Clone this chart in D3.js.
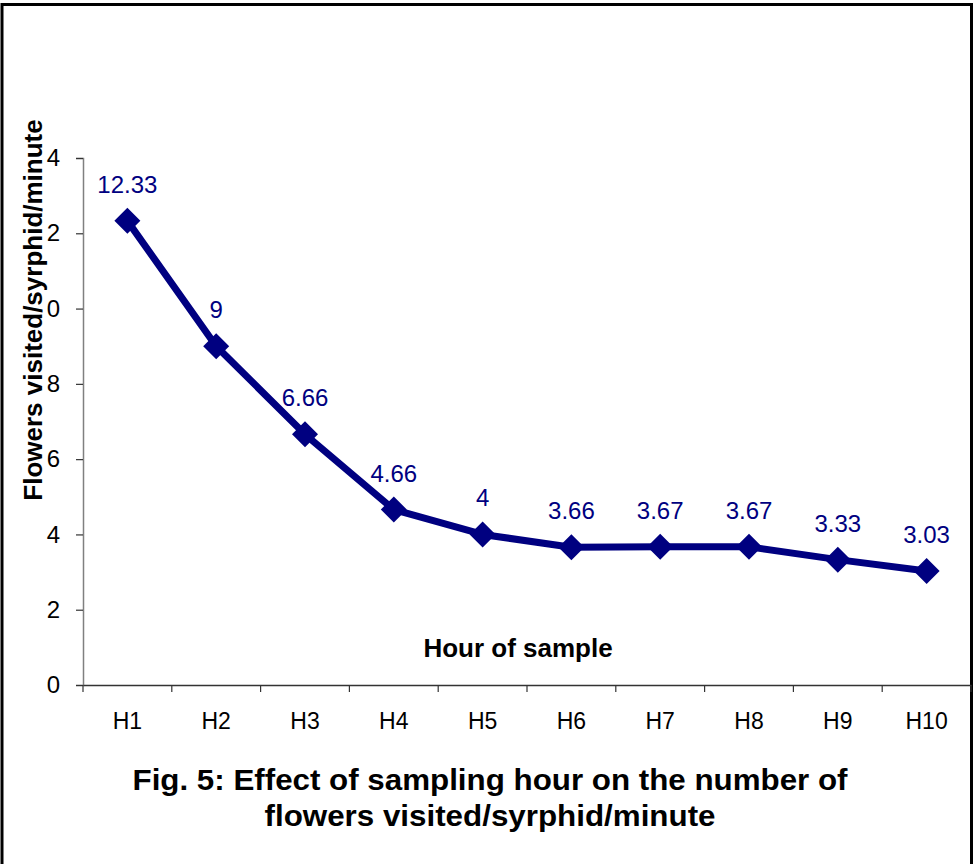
<!DOCTYPE html>
<html><head><meta charset="utf-8">
<script src="https://cdn.jsdelivr.net/npm/d3@7"></script>
<style>body{margin:0;background:#fff}svg{display:block}</style>
</head><body>
<svg id="c" width="975" height="864"></svg>
<script>
const categories = ["H1","H2","H3","H4","H5","H6","H7","H8","H9","H10"];
const values = [12.33, 9, 6.66, 4.66, 4, 3.66, 3.67, 3.67, 3.33, 3.03];
const valueLabels = ["12.33","9","6.66","4.66","4","3.66","3.67","3.67","3.33","3.03"];
const yTicks = [0, 2, 4, 6, 8, 10, 12, 14];
const yTitle = "Flowers visited/syrphid/minute";
const xTitle = "Hour of sample";
const caption = ["Fig. 5: Effect of sampling hour on the number of", "flowers visited/syrphid/minute"];

const svg = d3.select("#c");
const font = "'Liberation Sans', Arial, sans-serif";
const navy = "#000080";

const x = d3.scaleBand().domain(categories).range([83, 971]);
const y = d3.scaleLinear().domain([0, 14]).range([685, 158]);

// outer frame
svg.append("rect").attr("x", 2).attr("y", 4.5).attr("width", 969.5).attr("height", 900)
  .attr("fill", "none").attr("stroke", "#000").attr("stroke-width", 3);

// y axis
const ya = svg.append("g").attr("transform", "translate(83,0)")
  .call(d3.axisLeft(y).tickValues(yTicks).tickSize(7).tickPadding(16));
ya.select(".domain").attr("stroke", "#808080").attr("stroke-width", 1.5);
ya.selectAll(".tick line").attr("stroke", "#333").attr("stroke-width", 1.2);
ya.selectAll("text").attr("font-family", font).attr("font-size", 24).attr("fill", "#000");

// x axis
const xa = svg.append("g").attr("transform", "translate(0,685)")
  .call(d3.axisBottom(x).tickSize(0).tickPadding(28));
xa.select(".domain").attr("stroke", "#333").attr("stroke-width", 1.5);
xa.selectAll("text").attr("font-family", font).attr("font-size", 23).attr("fill", "#000");
// boundary ticks
const bounds = categories.map(c => x(c)).concat([x.range()[1]]);
svg.append("g").selectAll("line").data(bounds).join("line")
  .attr("x1", d => d).attr("x2", d => d).attr("y1", 685).attr("y2", 692)
  .attr("stroke", "#333").attr("stroke-width", 1.2);

// white band behind y title (hides leading digits like in reference)
svg.append("rect").attr("x", 18).attr("y", 100).attr("width", 28).attr("height", 420).attr("fill", "#fff");

// y title
svg.append("text").attr("transform", "translate(42,310) rotate(-90)")
  .attr("text-anchor", "middle").attr("font-family", font).attr("font-weight", "bold")
  .attr("font-size", 26).text(yTitle);

// x title
svg.append("text").attr("x", 518).attr("y", 657).attr("text-anchor", "middle")
  .attr("font-family", font).attr("font-weight", "bold").attr("font-size", 26).text(xTitle);

// line
const data = categories.map((c, i) => ({c, v: values[i], l: valueLabels[i]}));
const cx = d => x(d.c) + x.bandwidth() / 2;
svg.append("path").datum(data)
  .attr("d", d3.line().x(cx).y(d => y(d.v)))
  .attr("fill", "none").attr("stroke", navy).attr("stroke-width", 7).attr("stroke-linejoin", "round");

// markers
svg.append("g").selectAll("path").data(data).join("path")
  .attr("d", "M0,-13L13,0L0,13L-13,0Z")
  .attr("transform", d => `translate(${cx(d)},${y(d.v)})`)
  .attr("fill", navy);

// value labels
svg.append("g").selectAll("text").data(data).join("text")
  .attr("x", cx).attr("y", d => y(d.v) - 28).attr("text-anchor", "middle")
  .attr("font-family", font).attr("font-size", 24).attr("fill", navy).text(d => d.l);

// caption
const capW = [715, 451];
svg.append("g").selectAll("text").data(caption).join("text")
  .attr("x", 490).attr("y", (d, i) => 790 + i * 36).attr("text-anchor", "middle")
  .attr("font-family", font).attr("font-weight", "bold").attr("font-size", 30)
  .attr("textLength", (d, i) => capW[i]).attr("lengthAdjust", "spacingAndGlyphs")
  .text(d => d);
</script>
</body></html>
